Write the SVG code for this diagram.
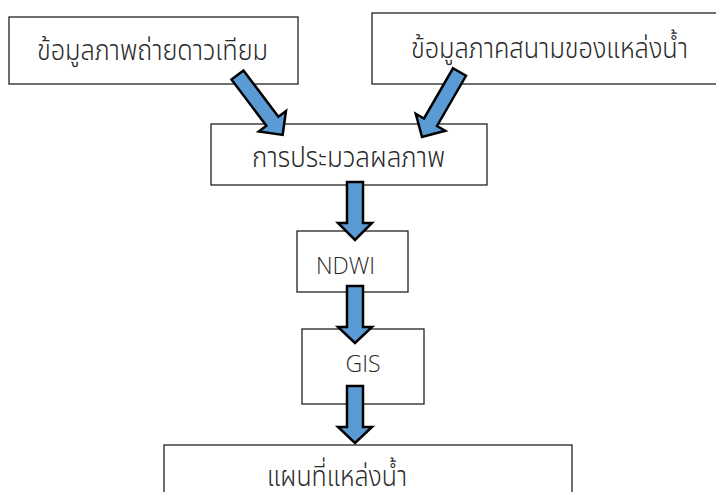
<svg xmlns="http://www.w3.org/2000/svg" width="716" height="492" viewBox="0 0 716 492">
<style>
.box{fill:#fff;stroke:#222;stroke-width:1.3}
.t{font-family:"Noto Sans Thai","Leelawadee UI","Tahoma","DejaVu Sans","Noto Sans",sans-serif;font-size:29px;font-weight:300;fill:#2a2a2a;text-anchor:middle}
.l{font-family:"Open Sans","Noto Sans",sans-serif;font-size:23px;font-weight:300;fill:#2a2a2a;text-anchor:middle}
.arr{fill:#5b9bd5;stroke:#000;stroke-width:2.5;stroke-linejoin:miter}
</style>
<defs>
<polygon id="darrow" points="-7.5,0 7.5,0 7.5,58 17,58 0,75 -17,58 -7.5,58"/>
</defs>
<rect width="716" height="492" fill="#fff"/>
<g id="n1"><rect class="box" x="9" y="17" width="289" height="67"/><text class="t" x="152.5" y="60" textLength="231" lengthAdjust="spacingAndGlyphs">ข้อมูลภาพถ่ายดาวเทียม</text></g>
<g id="n2"><rect class="box" x="372" y="13" width="360" height="71"/><text class="t" x="549.5" y="58" textLength="277" lengthAdjust="spacingAndGlyphs">ข้อมูลภาคสนามของแหล่งน้ำ</text></g>
<g id="n3"><rect class="box" x="211" y="124" width="276" height="61"/><text class="t" x="348.5" y="167" textLength="193" lengthAdjust="spacingAndGlyphs">การประมวลผลภาพ</text></g>
<g id="n4"><rect class="box" x="297" y="231" width="111" height="61"/><text class="l" x="345.5" y="274">NDWI</text></g>
<g id="n5"><rect class="box" x="302" y="329" width="122" height="75"/><text class="l" x="363" y="372">GIS</text></g>
<g id="n6"><rect class="box" x="164" y="445" width="408" height="70"/><text class="t" x="337" y="486" textLength="140" lengthAdjust="spacingAndGlyphs">แผนที่แหล่งน้ำ</text></g>
<g id="connectors">
<use href="#darrow" class="arr" transform="translate(237.5,75) rotate(-37)"/>
<use href="#darrow" class="arr" transform="translate(459.5,72) rotate(30)"/>
<polygon class="arr" points="347,182 363,182 363,223 372,223 355,240 338,223 347,223"/>
<polygon class="arr" points="347,286 363,286 363,327 372,327 355,343 338,327 347,327"/>
<polygon class="arr" points="347,386 363,386 363,427 372,427 355,443 338,427 347,427"/>
</g>
</svg>
